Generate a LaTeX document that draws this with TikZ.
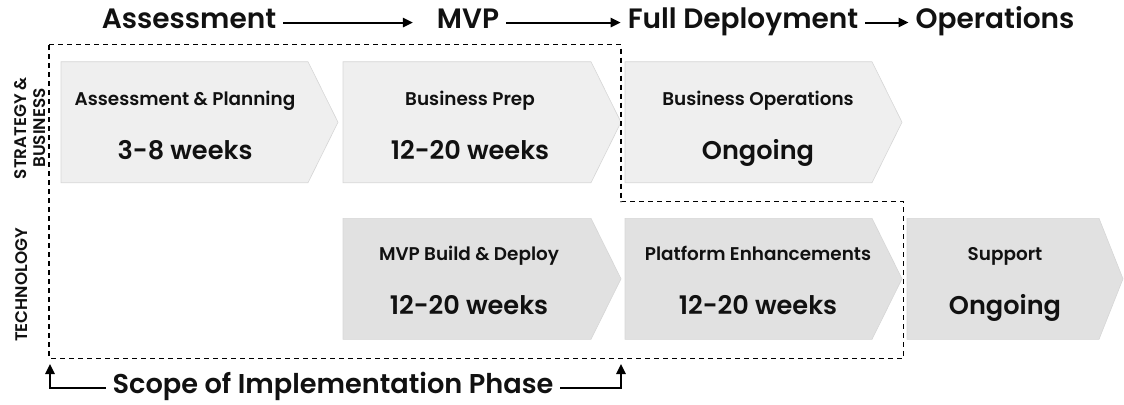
\documentclass[tikz,border=0pt]{standalone}
\usepackage{fontspec}
\setmainfont{Poppins}[BoldFont={Poppins SemiBold}]
\usetikzlibrary{arrows.meta}
\definecolor{ink}{HTML}{111111}
\definecolor{paleA}{HTML}{EFEFEF}
\definecolor{paleB}{HTML}{E1E1E1}
\definecolor{edge}{HTML}{D6D6D6}

\begin{document}
\begin{tikzpicture}[x=0.5pt,y=-0.5pt,font=\bfseries,text=ink,
  >={Triangle[length=5pt,width=4.6pt]},
  head/.style={font=\bfseries\fontsize{14}{17}\selectfont,anchor=base},
  lab/.style={font=\bfseries\fontsize{9.2}{11}\selectfont,anchor=base},
  dur/.style={font=\bfseries\fontsize{12.8}{16}\selectfont,anchor=base},
  side/.style={font=\bfseries\fontsize{8.4}{9.6}\selectfont,rotate=90,align=center}]
  \useasboundingbox (0,0) rectangle (1124,404);

  % phases along the top
  \node[head] (hAss) at (189,28) {Assessment};
  \node[head] (hMvp) at (468,28) {MVP};
  \node[head] (hFull) at (743,28) {Full Deployment};
  \node[head] (hOps) at (995,28) {Operations};
  \draw[->,line width=1pt,shorten >=8.5pt] (hAss.mid east)--(hMvp.mid west);
  \draw[->,line width=1pt] (hMvp.mid east)--(hFull.mid west);
  \draw[->,line width=1pt] (hFull.mid east)--(hOps.mid west);

  % chevrons: left x, top y, body width, tip depth, fill
  \foreach \x/\y/\w/\t/\c in {61/61.7/247/30/paleA,343/61.7/248/30/paleA,
      625/61.7/247/30/paleA,343/218.3/248/30/paleB,625/218.3/247/30/paleB,
      907/218.3/192/24/paleB}{
    \filldraw[fill=\c,draw=edge,line width=.3pt]
      (\x,\y)--++(\w,0)--++(\t,60.5)--++(-\t,60.5)--++(-\w,0)--cycle;
  }
  \foreach \n/\cx/\y/\a/\b in {plan/185/0/Assessment \& Planning/3-8 weeks,
      prep/470/0/Business Prep/12-20 weeks,
      bops/758/0/Business Operations/Ongoing,
      mvp/469/155/MVP Build \& Deploy/12-20 weeks,
      plat/758/155/Platform Enhancements/12-20 weeks,
      supp/1005/155/Support/Ongoing}{
    \node[lab] (\n-l) at (\cx,105.5+\y) {\a};
    \node[dur] (\n-d) at (\cx,159.5+\y) {\b};
  }

  \node[side] (sideBus) at (30,128) {STRATEGY \&\\BUSINESS};
  \node[side] (sideTech) at (22,285) {TECHNOLOGY};

  % scope of the implementation phase
  \draw[line width=.6pt,dash pattern=on 2.5pt off 2pt]
    (49,44.5)--(621,44.5)--(621,201.5)--(903.5,201.5)--(903.5,358.3)
    --(49,358.3)--cycle;
  \node[head,font=\bfseries\fontsize{13.6}{16}\selectfont] (scope) at (333,393)
    {Scope of Implementation Phase};
  \coordinate (scL) at (50,364);
  \coordinate (scR) at (621,364);
  \draw[->,line width=1pt] (scope.mid west)-|(scL);
  \draw[->,line width=1pt] (scope.mid east)-|(scR);
\end{tikzpicture}
\end{document}
